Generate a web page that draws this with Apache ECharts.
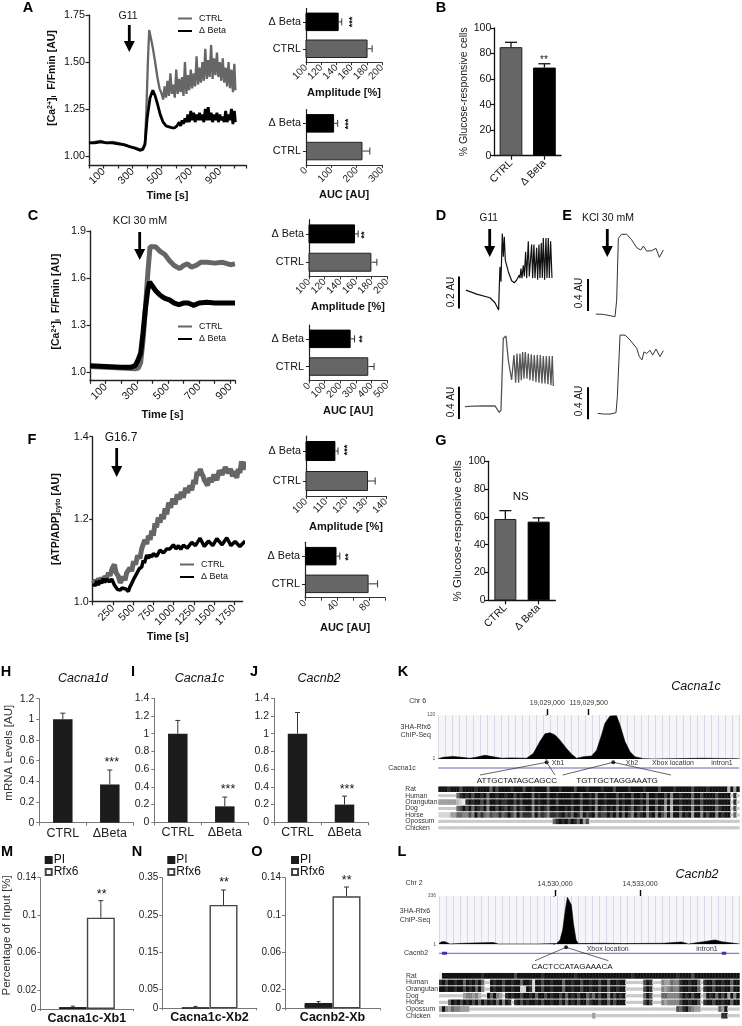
<!DOCTYPE html>
<html><head><meta charset="utf-8">
<style>html,body{margin:0;padding:0;background:#fff}#c{width:742px;height:1026px}</style>
<script src="https://cdn.jsdelivr.net/npm/echarts@6/dist/echarts.min.js"></script>
</head><body><div id="c"></div>
<script>
// ---------- data ----------
const hCats=['CTRL','Δ Beta'];
const aAmp=[181,143], aAmpErr=[187,147], ampTicks=[100,120,140,160,180,200];
const aAuc=[223,111], aAucErr=[252,125], aAucTicks=[0,100,200,300];
const cAmp=[180,159], cAmpErr=[187,163];
const cAuc=[380,267], cAucErr=[417,292], cAucTicks=[0,100,200,300,400,500];
const fAmp=[131,114.7], fAmpErr=[134.6,116], fAmpTicks=[100,110,120,130,140];
const fAuc=[79.5,39.4], fAucErr=[90.7,43.5], fAucTicks=[0,40,80];
const bVals=[85,69], bErr=[88.8,72];
const gVals=[58.5,56.6], gErr=[64.5,59.3];
const mrnaCats=['CTRL','ΔBeta'];
const hVals=[1,0.37], hErr=[1.06,0.51];
const iVals=[1,0.18], iErr=[1.15,0.285];
const jVals=[1,0.2], jErr=[1.24,0.295];
const mPI=0.002,mPIErr=0.003,mRfx=0.0974,mRfxErr=0.1155;
const nPI=0.002,nPIErr=0.005,nRfx=0.277,nRfxErr=0.317;
const oPI=0.0057,oPIErr=0.0072,oRfx=0.120,oRfxErr=0.130;
const mTicks=[0,0.02,0.06,0.1,0.14], nTicks=[0,0.05,0.15,0.25,0.35];
const aYTicks=[1,1.25,1.5,1.75], cYTicks=[1,1.3,1.6,1.9];

const aCtrl=[[0,1.07],[40,1.075],[80,1.08],[120,1.07],[160,1.075],[200,1.07],[240,1.06],[280,1.05],[320,1.045],[350,1.035],[370,1.04],[385,1.07],[395,1.25],[405,1.5],[414,1.67],[425,1.63],[440,1.57],[455,1.5],[470,1.42],[485,1.36],[500,1.33],
[510,1.30],[520,1.37],[530,1.31],[540,1.40],[550,1.32],[560,1.44],[570,1.33],[580,1.38],[590,1.31],[600,1.46],[610,1.33],[620,1.41],[630,1.34],[640,1.42],[650,1.32],[660,1.50],[670,1.33],[680,1.43],[690,1.35],[700,1.46],[710,1.36],[720,1.44],[730,1.37],[740,1.53],[750,1.38],[760,1.47],[770,1.39],[780,1.50],[790,1.40],[800,1.57],[810,1.41],[820,1.51],[830,1.42],[840,1.59],[850,1.41],[860,1.52],[870,1.43],[880,1.55],[890,1.42],[900,1.50],[910,1.40],[920,1.52],[930,1.39],[940,1.47],[950,1.37],[960,1.50],[970,1.36],[980,1.46],[990,1.34],[1000,1.49],[1007,1.35]];
const aBeta=[[0,1.07],[40,1.07],[80,1.075],[120,1.07],[160,1.07],[200,1.065],[240,1.06],[280,1.05],[320,1.04],[350,1.03],[370,1.035],[385,1.06],[400,1.2],[420,1.31],[439,1.35],[455,1.32],[470,1.28],[490,1.22],[510,1.18],[530,1.16],[550,1.155],[570,1.15],[590,1.15],[605,1.16],
[620,1.18],[630,1.16],[640,1.19],[650,1.17],[660,1.20],[670,1.18],[680,1.22],[690,1.18],[700,1.24],[710,1.19],[720,1.23],[730,1.18],[740,1.22],[750,1.19],[760,1.23],[770,1.19],[780,1.22],[790,1.18],[800,1.25],[810,1.19],[820,1.26],[830,1.19],[840,1.23],[850,1.18],[860,1.22],[870,1.19],[880,1.23],[890,1.18],[900,1.22],[910,1.19],[920,1.21],[930,1.18],[940,1.24],[950,1.18],[960,1.22],[970,1.19],[980,1.25],[990,1.17],[1000,1.24],[1007,1.18]];
const cCtrl=[[0,1.035],[100,1.03],[200,1.025],[290,1.02],[310,1.025],[325,1.06],[340,1.2],[355,1.4],[370,1.62],[385,1.8],[395,1.81],[420,1.80],[450,1.77],[480,1.75],[510,1.71],[540,1.68],[575,1.66],[600,1.68],[625,1.69],[650,1.67],[680,1.68],[710,1.70],[750,1.70],[800,1.695],[850,1.70],[900,1.685],[930,1.69]];
const cBeta=[[0,1.04],[100,1.035],[200,1.03],[260,1.03],[290,1.04],[310,1.08],[325,1.12],[340,1.25],[355,1.4],[370,1.52],[382,1.575],[400,1.55],[420,1.52],[450,1.49],[480,1.47],[510,1.46],[540,1.44],[570,1.43],[600,1.44],[630,1.44],[665,1.425],[700,1.44],[750,1.445],[800,1.44],[850,1.44],[900,1.44],[930,1.44]];
const fCtrl=[[8,1.044],[30,1.052],[50,1.046],[70,1.056],[90,1.05],[110,1.058],[130,1.048],[150,1.062],[173,1.056],[195,1.07],[214,1.063],[240,1.08],[268,1.09],[290,1.07],[317,1.062],[340,1.046],[359,1.042],[380,1.06],[400,1.052],[420,1.07],[440,1.068],[460,1.082],[482,1.074],[505,1.098],[530,1.09],[555,1.112],[585,1.105],[605,1.128],[625,1.124],[645,1.15],[668,1.14],[690,1.16],[710,1.15],[730,1.172],[750,1.16],[770,1.19],[790,1.18],[810,1.204],[833,1.192],[855,1.212],[875,1.2],[895,1.226],[916,1.212],[940,1.24],[965,1.228],[990,1.25],[1019,1.236],[1045,1.26],[1070,1.248],[1095,1.266],[1121,1.252],[1150,1.276],[1175,1.264],[1200,1.282],[1225,1.27],[1250,1.295],[1270,1.285],[1290,1.315],[1307,1.306],[1330,1.322],[1349,1.31],[1365,1.305],[1380,1.295],[1400,1.292],[1420,1.282],[1445,1.3],[1470,1.29],[1500,1.308],[1535,1.295],[1565,1.318],[1600,1.308],[1640,1.326],[1679,1.312],[1705,1.322],[1730,1.304],[1755,1.316],[1782,1.3],[1800,1.322],[1820,1.312],[1840,1.34],[1860,1.32],[1885,1.34]];
const fBeta=[[8,1.044],[30,1.038],[50,1.05],[70,1.04],[90,1.052],[110,1.044],[130,1.056],[150,1.047],[173,1.055],[205,1.048],[235,1.055],[270,1.04],[305,1.03],[322,1.034],[340,1.028],[360,1.033],[379,1.029],[410,1.031],[441,1.025],[460,1.036],[482,1.044],[515,1.058],[544,1.068],[575,1.08],[606,1.084],[625,1.10],[640,1.094],[668,1.113],[690,1.105],[710,1.114],[730,1.108],[750,1.117],[790,1.11],[833,1.125],[875,1.118],[916,1.128],[955,1.128],[998,1.138],[1030,1.128],[1060,1.136],[1090,1.127],[1121,1.137],[1170,1.13],[1225,1.144],[1270,1.136],[1328,1.154],[1380,1.134],[1431,1.147],[1485,1.136],[1535,1.153],[1600,1.138],[1658,1.155],[1710,1.136],[1761,1.146],[1820,1.134],[1885,1.147]];
const dTop=[[3,.135],[35,.11],[75,.087],[90,.056],[101,.01],[103,.156],[105,.28],[108,.187],[112,.489],[115,.343],[118,.468],[121,.322],[130,.25],[140,.193],[148,.181],[155,.198],[163,.229],[165,.21],[168,.27],[171,.21],[175,.29],[178,.22],[182,.375],[185,.21],[190,.44],[193,.22],[200,.42],[203,.21],[207,.42],[210,.21],[215,.40],[218,.2],[222,.42],[225,.21],[229,.43],[232,.21],[235,.46],[239,.2],[243,.46],[246,.21],[250,.46],[253,.21],[257,.44],[261,.21]];
const dBottom=[[0,.124],[30,.13],[55,.132],[90,.132],[103,.054],[108,.082],[115,.969],[123,.997],[130,.70],[140,.453],[147,.76],[152,.42],[156,.78],[161,.42],[165,.78],[169,.45],[173,.80],[177,.47],[181,.80],[186,.47],[190,.78],[195,.45],[199,.77],[204,.44],[208,.76],[213,.43],[217,.76],[222,.42],[226,.76],[231,.41],[235,.75],[240,.41],[244,.75],[249,.40],[253,.75],[258,.39],[262,.75],[265,.38]];
const eTop=[[2,.033],[25,.029],[60,0],[65,.208],[70,.98],[80,1.03],[95,1.03],[110,.96],[125,.863],[137,.833],[145,.883],[155,.82],[170,.825],[183,.854],[193,.742],[205,.833]];
const eBottom=[[8,.042],[25,.033],[45,.033],[63,.05],[67,.25],[75,1.02],[90,1.02],[105,.96],[125,.855],[133,.75],[141,.71],[147,.81],[155,.79],[165,.83],[173,.77],[183,.846],[195,.75],[205,.825]];
const dTopScale=[[-18,.02],[-18,.22]], dBottomScale=[[-18,-.03],[-18,.37]];
const eTopScale=[[-21,.07],[-21,.47]], eBottomScale=[[-21,-.033],[-21,.367]];

const kPeak=[[-1316,2],[-1256,5.5],[-1135,8],[-1035,5.5],[-934,3],[-854,6],[-753,11],[-652,7],[-552,3],[-451,4],[-250,3],[-169,16],[-89,48],[-28,69],[32,72],[93,66],[153,52],[234,29],[294,14],[354,3],[435,7],[535,9],[596,25],[656,66],[696,97],[757,117],[837,118],[878,93],[938,48],[998,21],[1059,7],[1159,2],[1280,1],[1884,3],[2319,2]];
const lPeak=[[-4094,6],[-3999,19],[-3882,19],[-3705,3],[-3235,8],[-2176,13],[-2000,3],[-647,3],[58,6],[176,31],[270,100],[353,227],[435,327],[494,331],[576,273],[647,147],[741,31],[823,6],[1705,8],[2411,6],[3822,8],[4469,17],[4704,3],[5645,31],[5880,19],[6503,3]];
const species=['Rat','Human','Orangutan','Dog','Horse','Opossum','Chicken'];
const kRows=[
"0001000200 0010000302 0000100020 0100003000 1000020001 0000100020 0001000010 0002000010 0000200001 0000006050",
"------3101 0200103001 0010020100 0301002001 0000100200 1030010002 0100200103 0010020400 1000300200 0020000-1-",
"5555556781 0100203001 0110020200 0301002002 0000100200 1030010002 0100200103 0020040500 1000300200 0020000-1-",
"------3202 0301204002 0120130210 0402013001 0010200300 1040120103 0201301204 0030150600 2000400300 0031000-2-",
"7777553344 2403134233 1320240311 1403124112 1021301402 1041220203 0302402104 1040240500 3010500402 0040100-3-",
"---------- ---------- ---------- --------31 0102013052 ---------- ---------- ---------- ---------- ----------",
"---------- ---------- ---------- ---------- ---------- ---------- ---------- ---------- ---------- ----------"];
const lRows=[
"9000000000 0000100000 0000020000 0000100000 0000010000 0000000000 0000100000 0000000001 0000200000 0000000000",
"1020010030 10203--010 0200100300 1700200100 0300100200 1002003001 00------20 1---455344 1001003-10 0200100300",
"0010010020 10304--010 0200100770 1700200100 0300100200 1002003001 00------20 1---454344 1001003-10 0200100300",
"--------54 4546--0304 5-10100200 1030020100 2030102003 1302004020 10------30 2---334444 2010200-50 1030205040",
"---3010201 0203020103 0401-10201 0010200100 2030102003 1002003020 00------20 2---454444 2001002-10 0200100300",
"5045344555 ---------- ---------- ---------- ---------- ---------- ---------- ---------2 3103455--- ---350----",
"---------- ---------- ---------- ---------- ---------- -5-------- ---------- ---------- ---------- ----11----"];
const kMotifs=[[[-813,16],[-8,3.3],[93,16]],[[185,16],[797,3.3],[1495,16]]];
const lMotifs=[[[-706,16.4],[388,3],[1882,16.4]]];
const kGene=[[-1316,9],[2319,9]], lGene=[[-4094,9],[6500,9]];
const lExons=[[[-3990,9],[-3810,9]],[[5880,9],[6040,9]]];

// ---------- option builders ----------
const FF='"Liberation Sans",Arial,Helvetica,sans-serif';
const grid=[],xAxis=[],yAxis=[],series=[],graphic=[],legend=[],title=[];
const GREY='#666666',DARK='#222222',BLACK='#000000';
function panel(box,x,y){const g=grid.length;grid.push({left:box[0],top:box[1],width:box[2],height:box[3],...(box[4]||{})});
  xAxis.push({...x,gridIndex:g});yAxis.push({...y,gridIndex:g});return{xAxisIndex:xAxis.length-1,yAxisIndex:yAxis.length-1};}
function line(c,w){return{show:true,onZero:false,lineStyle:{color:c,width:w}};}
function tick(c,w,l){return{show:true,length:l,lineStyle:{color:c,width:w}};}
function txt(x,y,s,o={}){graphic.push({type:'text',x,y,rotation:(o.rot||0)*Math.PI/180,silent:true,z:30,style:{x:0,y:0,text:s,fill:o.color||'#111',
  font:`${o.italic?'italic ':''}${o.bold?'bold ':''}${o.size||11}px ${FF}`,textAlign:o.align||'center',textVerticalAlign:'middle'}});}
function arrow(x,y1,y2){graphic.push({type:'polygon',silent:true,z:30,shape:{points:[[x-1.4,y1],[x+1.4,y1],[x+1.4,y2-11],[x+5.5,y2-11],[x,y2],[x-5.5,y2-11],[x-1.4,y2-11]]},style:{fill:'#000'}});}
function errSeries(ax,items,o={}){const capH=o.cap||3,h=!!o.horizontal,off=o.offset||0,c=o.color||DARK,w=o.width||1;
  series.push({type:'custom',...ax,silent:true,clip:false,z:5,data:items,renderItem(p,api){
    const a=api.coord([api.value(0),api.value(1)]);
    const b=api.coord(h?[api.value(2),api.value(1)]:[api.value(0),api.value(2)]);
    const st={stroke:c,lineWidth:w,fill:'none'};
    const X=s=>s+(h?0:off);
    return{type:'group',children:[
      {type:'line',shape:{x1:X(a[0]),y1:a[1],x2:X(b[0]),y2:b[1]},style:st},
      h?{type:'line',shape:{x1:b[0],y1:b[1]-capH,x2:b[0],y2:b[1]+capH},style:st}
       :{type:'line',shape:{x1:X(b[0])-capH,y1:b[1],x2:X(b[0])+capH,y2:b[1]},style:st}]};}});}

const styled=(v,i)=>({value:v,itemStyle:i===0?{color:GREY,borderColor:DARK,borderWidth:1}:{color:BLACK,borderColor:BLACK,borderWidth:1}});
function hBar(box,vals,errs,min,max,step,name,barH,labels){
  const ax=panel(box,
   {type:'value',min,max,interval:step,name,nameLocation:'middle',nameGap:25,nameTextStyle:{fontWeight:'bold',fontSize:11,color:'#111'},
    axisLine:line('#333',1),axisTick:tick('#333',1,3),splitLine:{show:false},
    axisLabel:{rotate:45,fontSize:10,margin:4,color:'#222',customValues:labels,hideOverlap:false,showMinLabel:true,showMaxLabel:true}},
   {type:'category',data:hCats,axisLine:line('#222',1.2),axisTick:{show:true,length:3,alignWithLabel:true,lineStyle:{color:'#222'}},
    axisLabel:{fontSize:10.8,margin:5,color:'#111',interval:0}});
  series.push({type:'bar',...ax,barWidth:barH,z:3,data:vals.map(styled)});
  errSeries(ax,vals.map((v,i)=>[v,i,errs[i]]),{horizontal:true,cap:3.5,color:'#333'});
}
function vBar(box,vals,errs,ymax,step,yname,barW,nameGap,nameSize){
  const ax=panel(box,
   {type:'category',data:hCats,axisLine:line('#111',1.3),axisTick:{show:true,length:4,alignWithLabel:true,lineStyle:{color:'#111',width:1.2}},
    axisLabel:{rotate:45,fontSize:10.5,margin:6,color:'#111',interval:0}},
   {type:'value',min:0,max:ymax,interval:step,name:yname,nameLocation:'middle',nameGap,nameTextStyle:{fontSize:nameSize,color:'#222'},
    axisLine:line('#111',1.3),axisTick:tick('#111',1.2,4),splitLine:{show:false},axisLabel:{fontSize:10.5,margin:3,color:'#111'}});
  series.push({type:'bar',...ax,barWidth:barW,z:3,data:vals.map(styled)});
  errSeries(ax,vals.map((v,i)=>[i,v,errs[i]]),{cap:6,width:1.3,color:'#111'});
}
function mrna(box,vals,errs,ymax,yname){
  const ax=panel(box,
   {type:'category',data:mrnaCats,axisLine:line('#777',1),axisTick:{show:true,length:3,lineStyle:{color:'#777'}},
    axisLabel:{fontSize:12.5,margin:4,color:'#222',interval:0}},
   {type:'value',min:0,max:ymax,interval:0.2,name:yname||'',nameLocation:'middle',nameGap:24,
    nameTextStyle:{fontSize:11.5,color:'#333',padding:[0,0,0,16]},
    axisLine:line('#777',1),axisTick:tick('#777',1,3),splitLine:{show:false},axisLabel:{fontSize:10.5,margin:5,color:'#222'}});
  series.push({type:'bar',...ax,barWidth:19.5,z:3,itemStyle:{color:'#1c1c1c'},data:vals});
  errSeries(ax,vals.map((v,i)=>[i,v,errs[i]]),{cap:2.5,width:1,color:'#333'});
}
function chip(box,cat,key,pi,piE,rf,rfE,ticks,ymax,yname,legendBox){
  const ax=panel(box,
   {type:'category',data:[cat],axisLine:line('#777',1),axisTick:{show:true,length:2,lineStyle:{color:'#777'}},
    axisLabel:{fontSize:12.5,fontWeight:'bold',margin:3,color:'#111',interval:0}},
   {type:'value',min:0,max:ymax,name:yname||'',nameLocation:'middle',nameGap:27,
    nameTextStyle:{fontSize:11.5,color:'#333',padding:[0,0,0,16]},
    axisLine:line('#777',1),axisTick:{...tick('#777',1,3),customValues:ticks},splitLine:{show:false},
    axisLabel:{fontSize:10,margin:4,color:'#222',customValues:ticks}});
  series.push({type:'bar',...ax,name:key+':PI',barWidth:28,barGap:0,z:3,itemStyle:{color:'#1c1c1c',borderColor:'#1c1c1c',borderWidth:1},data:[pi]});
  series.push({type:'bar',...ax,name:key+':Rfx6',barWidth:28,barGap:0,z:3,itemStyle:{color:'#fff',borderColor:'#444',borderWidth:1.4},data:[rf]});
  errSeries(ax,[[0,pi,piE]],{offset:-14,cap:2,color:'#333'});
  errSeries(ax,[[0,rf,rfE]],{offset:14,cap:2.5,color:'#333'});
  legend.push({left:legendBox[0],top:legendBox[1],orient:'vertical',itemWidth:6,itemHeight:6,itemGap:0,padding:0,selectedMode:false,
    icon:'rect',data:[key+':PI',key+':Rfx6'],formatter:n=>n.split(':')[1],textStyle:{fontSize:12,color:'#111',padding:[0,0,0,-3]}});
}
const richCa={s:{fontSize:7,fontWeight:'bold',padding:[0,0,4,0]},d:{fontSize:7,fontWeight:'bold',padding:[4,0,0,0]}};
function traces(box,key,ctrl,beta,x,y,yName,nameGap,shift,wc,wb,lg){
  const ax=panel(box,
   {type:'value',min:x.min,max:x.max,interval:x.interval,name:'Time [s]',nameLocation:'middle',nameGap:x.gap,nameTextStyle:{fontWeight:'bold',fontSize:11,color:'#111'},
    axisLine:line('#222',1.4),axisTick:tick('#222',1.2,3.5),splitLine:{show:false},
    axisLabel:{rotate:45,fontSize:10.8,margin:5,color:'#111',formatter:x.fmt,hideOverlap:false}},
   {type:'value',min:y.min,max:y.max,name:yName,nameLocation:'middle',nameGap,nameTextStyle:{fontWeight:'bold',fontSize:10.5,color:'#111',padding:[0,0,0,shift],rich:richCa},
    axisLine:line('#222',1.4),axisTick:{...tick('#222',1.2,3.5),customValues:y.ticks},splitLine:{show:false},
    axisLabel:{fontSize:10.8,margin:4,color:'#111',customValues:y.ticks,formatter:y.fmt}});
  series.push({type:'line',...ax,name:key+':CTRL',data:ctrl,symbol:'none',clip:false,lineStyle:{color:GREY,width:wc},itemStyle:{color:GREY},z:2});
  series.push({type:'line',...ax,name:key+':Δ Beta',data:beta,symbol:'none',clip:false,lineStyle:{color:BLACK,width:wb},itemStyle:{color:BLACK},z:3});
  legend.push({left:lg[0],top:lg[1],orient:'vertical',itemWidth:14,itemHeight:2,itemGap:3.5,padding:0,selectedMode:false,icon:'rect',
    data:[key+':CTRL',key+':Δ Beta'],formatter:n=>n.split(':')[1],textStyle:{fontSize:9,color:'#111',padding:[0,0,0,2]}});
}
function rawTrace(box,xr,yr,data,scale,color,w){
  const hidden={show:false};
  const ax=panel(box,{type:'value',min:xr[0],max:xr[1],show:false,splitLine:hidden},{type:'value',min:yr[0],max:yr[1],show:false,splitLine:hidden});
  series.push({type:'line',...ax,data,symbol:'none',clip:false,lineStyle:{color,width:w},z:3});
  series.push({type:'line',...ax,data:scale,symbol:'none',clip:false,lineStyle:{color:'#000',width:2},z:3});
}
function genome(trackBox,geneBox,rowBox,peak,yMax,bp,bpTicks,tickLabel,motifs,gene,exons,rows){
  const [b0,b1]=bp;
  const common={min:b0,max:b1};
  const ax=panel(trackBox,
    {type:'value',...common,position:'top',axisLine:{show:false},splitLine:{show:false},
     axisTick:{show:true,inside:false,length:6,customValues:bpTicks,lineStyle:{color:'#000',width:1.4}},
     axisLabel:{show:true,customValues:bpTicks,fontSize:7,color:'#333',margin:8,formatter:tickLabel}},
    {type:'value',min:1,max:yMax,axisLine:{show:false},splitLine:{show:false},
     axisTick:{show:true,length:2,customValues:[1,yMax],lineStyle:{color:'#999'}},
     axisLabel:{fontSize:5,color:'#555',margin:3,customValues:[1,yMax]}});
  grid[grid.length-1].show=true;grid[grid.length-1].backgroundColor='#f6f6fa';grid[grid.length-1].borderWidth=0;
  xAxis.push({type:'value',gridIndex:grid.length-1,min:0,max:43,interval:1,show:true,axisLine:{show:false},axisTick:{show:false},axisLabel:{show:false},
    splitLine:{show:true,lineStyle:{color:'#d9d9e6',width:1}}});
  series.push({type:'line',...ax,data:peak,symbol:'none',clip:true,lineStyle:{color:'#000',width:0.6},areaStyle:{color:'#000',opacity:1,origin:'start'},z:3});
  const g=panel(geneBox,{type:'value',...common,show:false,splitLine:{show:false}},{type:'value',min:0,max:22,inverse:true,show:false,splitLine:{show:false}});
  series.push({type:'line',...g,data:gene,symbol:'none',lineStyle:{color:'#6a66b8',width:1},z:2});
  exons.forEach(e=>series.push({type:'line',...g,data:e,symbol:'none',lineStyle:{color:'#3c38a8',width:3},z:3}));
  motifs.forEach(m=>{series.push({type:'line',...g,data:m,symbol:'none',lineStyle:{color:'#222',width:0.7},z:3});
    series.push({type:'scatter',...g,data:[m[1]],symbolSize:4,itemStyle:{color:'#000'},z:4});});
  const r=panel(rowBox,{type:'value',min:0,max:100,show:false,splitLine:{show:false}},
    {type:'category',data:species,inverse:true,axisLine:{show:false},axisTick:{show:false},
     axisLabel:{fontSize:6.8,color:'#333',align:'left',margin:33,lineHeight:7,interval:0}});
  const cells=[];rows.forEach((s,ri)=>{const t=s.replace(/\s/g,'');for(let i=0;i<t.length;i++)cells.push([i,ri,t[i]==='-'?-1:+t[i]]);});
  series.push({type:'custom',...r,silent:true,z:3,data:cells,dimensions:['col','row','shade'],encode:{x:0,y:1},renderItem(p,api){
    const c=api.coord([api.value(0),api.value(1)]),sz=api.size([1,1]),sh=api.value(2);
    const H=sz[1]*0.86;
    if(sh<0)return{type:'rect',shape:{x:c[0],y:c[1]-H*0.28,width:sz[0]+0.4,height:H*0.56},style:{fill:'#c9c9c9'}};
    const v=Math.min(235,18+sh*28);return{type:'rect',shape:{x:c[0],y:c[1]-H/2,width:sz[0]+0.4,height:H},style:{fill:`rgb(${v},${v},${v})`}};}});
}

// ---------- panels ----------
const yFix2=v=>v.toFixed(2), yFix1=v=>v.toFixed(1);
traces([89,15,157,150],'A',aCtrl,aBeta,{min:0,max:1080,interval:100,gap:25,fmt:v=>v%200===100?String(v):''},
  {min:0.952,max:1.75,ticks:aYTicks,fmt:yFix2},'[Ca{s|2+}]{d|i}  F/Fmin [AU]',31,24,2.3,2.8,[178,14]);
traces([90,231,145,149.3],'C',cCtrl,cBeta,{min:0,max:930,interval:100,gap:29,fmt:v=>v%200===100?String(v):''},
  {min:0.947,max:1.9,ticks:cYTicks,fmt:yFix1},'[Ca{s|2+}]{d|i}  F/Fmin [AU]',28,8,5,5,[178,322]);
traces([92.7,436.7,150,165],'F',fCtrl,fBeta,{min:0,max:1855,interval:250,gap:30,fmt:v=>v===0?'':String(v)},
  {min:1,max:1.4,ticks:[1,1.2,1.4],fmt:yFix1},'[ATP/ADP]{d|cyto} [AU]',31,0,5,3.5,[180,560]);

hBar([306,8.4,76,53.8],aAmp,aAmpErr,100,200,20,'Amplitude [%]',18.5,ampTicks);
hBar([306,109.5,76,55.4],aAuc,aAucErr,0,300,100,'AUC [AU]',18.5,aAucTicks);
hBar([309,219.7,78,56.7],cAmp,cAmpErr,100,200,20,'Amplitude [%]',19,ampTicks);
hBar([309,325,78,55.4],cAuc,cAucErr,0,500,100,'AUC [AU]',18.5,cAucTicks);
hBar([306,436,80,60],fAmp,fAmpErr,100,140,10,'Amplitude [%]',20,fAmpTicks);
hBar([305,542.3,80,55.4],fAuc,fAucErr,0,100,20,'AUC [AU]',18.5,fAucTicks);

vBar([494.3,28,66.8,127.7],bVals,bErr,100,20,'% Glucose-responsive cells',22.7,19,10.5);
vBar([488.7,461.3,66.6,139],gVals,gErr,100,20,'% Glucose-responsive cells',22,21,11.5);

rawTrace([458.3,231.7,95,80],[-20,265],[0,.5],dTop,dTopScale,'#111',1.2);
rawTrace([458.3,333.3,95,86.6],[-20,265],[-.04,1.03],dBottom,dBottomScale,'#555',1.3);
rawTrace([586.7,232.7,78.3,84],[-25,210],[0,1.05],eTop,eTopScale,'#333',1);
rawTrace([586.7,332.7,78.3,87.2],[-25,210],[-.04,1.05],eBottom,eBottomScale,'#333',1);

mrna([39.3,698.7,94,124],hVals,hErr,1.2,'mRNA Levels [AU]');
mrna([154.3,698.3,94,124],iVals,iErr,1.4);
mrna([274,698.3,94,124],jVals,jErr,1.4);

chip([39.3,877.7,94,131.3],'Cacna1c-Xb1','M',mPI,mPIErr,mRfx,mRfxErr,mTicks,0.14,'Percentage of Input [%]',[44.7,854]);
chip([162.3,877.7,94.4,130.6],'Cacna1c-Xb2','N',nPI,nPIErr,nRfx,nRfxErr,nTicks,0.35,'',[167.3,854]);
chip([285,877.7,95,130.6],'Cacnb2-Xb','O',oPI,oPIErr,oRfx,oRfxErr,mTicks,0.14,'',[291,854]);

genome([438.3,715,301,44],[438.3,759,301,22],[438.3,786,301,45],kPeak,120,[-1316,2319],[0,500],
  v=>v===0?'19,029,000':'119,029,500',kMotifs,kGene,[],kRows);
genome([439,896,300.3,48.3],[439,944.3,300.3,22],[439,972.5,300.3,46.5],lPeak,336,[-4094,6500],[0,3000],
  v=>v===0?'14,530,000':'14,533,000',lMotifs,lGene,lExons,lRows);

// ---------- titles and annotation ----------
[['Cacna1d',83,672],['Cacna1c',199.5,672],['Cacnb2',319,672],['Cacna1c',696,680],['Cacnb2',697,868]].forEach(t=>title.push({text:t[0],left:t[1],top:t[2],textAlign:'center',padding:0,
  textStyle:{fontSize:12.5,fontStyle:'italic',fontWeight:'normal',color:'#111'}}));
[['A',28,8],['B',441,8],['C',33,216],['D',441,216],['E',567,216],['F',32,440],['G',441,441],['H',6,672],['I',133,672],['J',254,672],['K',403,672],['L',402,852],['M',7,852],['N',137,852],['O',257,852]]
  .forEach(l=>txt(l[1],l[2],l[0],{bold:true,size:14.5,color:'#000'}));
txt(128,16,'G11',{size:10.5});arrow(129.3,25,52);
txt(140,221,'KCl 30 mM',{size:11});arrow(139.7,232,260);
txt(121,438,'G16.7',{size:12});arrow(116.7,448,477);
txt(488.7,218,'G11',{size:10});arrow(489.7,229,257);
txt(608,218,'KCl 30 mM',{size:10.5});arrow(607.3,229,257);
txt(451,292,'0.2 AU',{rot:90,size:10});txt(451,402,'0.4 AU',{rot:90,size:10});
txt(579.5,293,'0.4 AU',{rot:90,size:10});txt(579.5,401,'0.4 AU',{rot:90,size:10});
[[353,22,'***'],[349,124,'***'],[365,235,'**'],[363,339,'**'],[348,450,'***'],[349,557,'**']].forEach(s=>txt(s[0],s[1],s[2],{rot:90,size:9,bold:true}));
txt(544,60,'**',{size:10});txt(520.7,496.7,'NS',{size:11.5});
[[111.7,763,'***'],[228,789.5,'***'],[347,789.5,'***'],[101.7,895,'**'],[224,882.5,'**'],[346.7,881,'**']].forEach(s=>txt(s[0],s[1],s[2],{size:12.5}));
// genome labels
const gl={size:7,color:'#333'};
txt(417.7,701,'Chr 6',gl);txt(415.7,726.7,'3HA-Rfx6',gl);txt(415.7,735,'ChIP-Seq',gl);txt(402,768,'Cacna1c',gl);
txt(558,763,'Xb1',gl);txt(632,763,'Xb2',gl);txt(673,763,'Xbox location',gl);txt(722,763,'intron1',gl);
txt(517,780.7,'ATTGCTATAGCAGCC',{size:8,color:'#111'});txt(617,780.7,'TGTTGCTAGGAAATG',{size:8,color:'#111'});
txt(414,883,'Chr 2',gl);txt(415,910.7,'3HA-Rfx6',gl);txt(415,920,'ChIP-Seq',gl);txt(416,953,'Cacnb2',gl);
txt(607.7,948.7,'Xbox location',gl);txt(707,948.7,'intron1',gl);
txt(572,966.7,'CACTCCATAGAAACA',{size:8,color:'#111'});

const chart=echarts.init(document.getElementById('c'),null,{renderer:'canvas',width:742,height:1026});
chart.setOption({animation:false,backgroundColor:'#fff',textStyle:{fontFamily:FF},tooltip:{show:false},title,grid,xAxis,yAxis,series,legend,graphic:{elements:graphic}});
</script></body></html>
